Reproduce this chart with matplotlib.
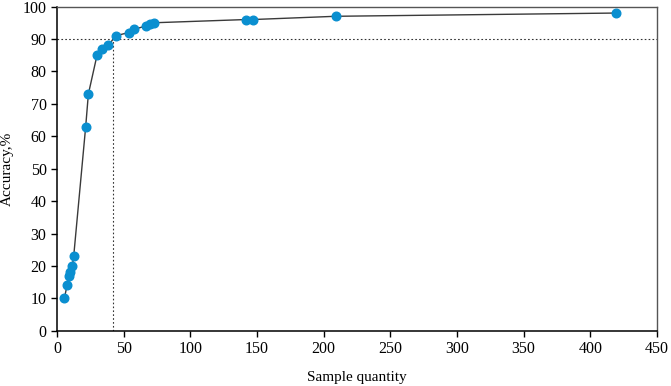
import matplotlib.pyplot as plt

# sample quantity vs accuracy (%)
samples = [5.5, 7.5, 9.3, 10, 11.5, 12.5, 21.5, 23.5, 30, 34, 38.5, 44,
           54, 58, 66.5, 70, 72.5, 142, 147, 209, 419]
accuracy = [10, 14, 17, 18, 20, 23, 63, 73, 85, 87, 88, 91,
            92, 93, 94, 94.5, 95, 96, 96, 97, 98]
threshold_x = 42
threshold_y = 90

plt.rcParams["font.family"] = ["Liberation Serif", "DejaVu Serif"]

fig = plt.figure(figsize=(6.71, 3.86), dpi=100)
ax = fig.add_axes([0.085, 0.143, 0.894, 0.84])

ax.plot(samples, accuracy, color="#3a3a3a", linewidth=1.0, zorder=2)
ax.plot(samples, accuracy, linestyle="none", marker="o", markersize=6.2,
        color="#0a8fd0", zorder=3)

ax.plot([threshold_x, threshold_x], [0, threshold_y], color="#333333",
        linestyle=(0, (1.5, 2)), linewidth=0.8, zorder=1)
ax.axhline(threshold_y, color="#333333", linestyle=(0, (1.5, 2)),
           linewidth=0.8, zorder=1)

ax.set_xlim(0, 450)
ax.set_ylim(0, 100)
ax.set_xticks(range(0, 451, 50))
ax.set_yticks(range(0, 101, 10))
ax.tick_params(direction="out", length=4, width=1, labelsize=11.5,
               top=False, right=False)

for side in ["left", "bottom"]:
    ax.spines[side].set_color("black")
    ax.spines[side].set_linewidth(1.1)
for side in ["top", "right"]:
    ax.spines[side].set_color("#555555")
    ax.spines[side].set_linewidth(1.0)

ax.set_xlabel("Sample quantity", fontsize=11, labelpad=10)
ax.set_ylabel("Accuracy,%", fontsize=11, labelpad=6)

fig.savefig("out.png", dpi=100)
